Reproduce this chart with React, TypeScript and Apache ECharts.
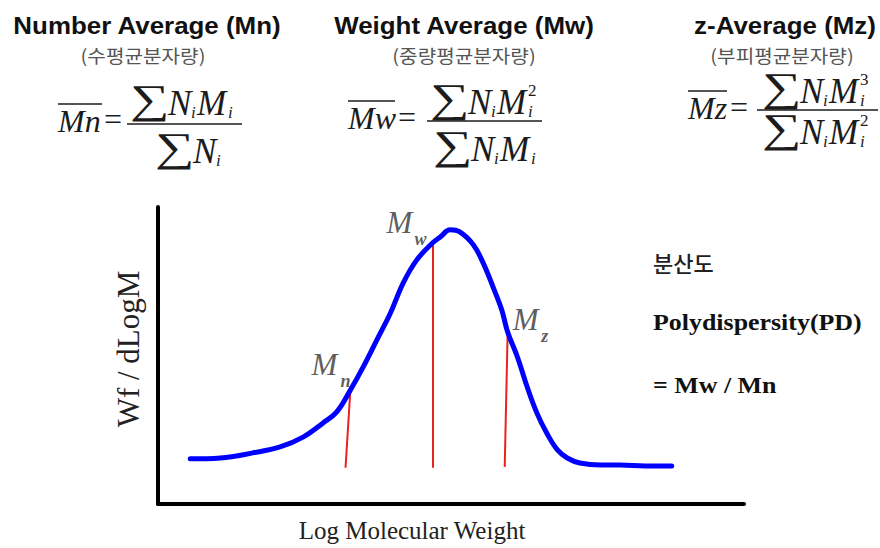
import React, { useEffect, useRef } from "react";
import * as echarts from "echarts";

// ---- data ----
const logM = [2.33, 2.64, 2.97, 3.25, 3.49, 3.69, 3.83, 3.97, 4.10, 4.24, 4.38, 4.51, 4.65, 4.81, 4.89, 4.99, 5.09, 5.23, 5.33, 5.43, 5.52, 5.58, 5.68, 5.78, 5.88, 5.98, 6.09, 6.19, 6.32, 6.53, 6.73, 6.99, 7.26];
const wfDlogM = [0.152, 0.155, 0.172, 0.192, 0.226, 0.273, 0.310, 0.384, 0.461, 0.552, 0.643, 0.744, 0.822, 0.879, 0.899, 0.923, 0.916, 0.872, 0.811, 0.731, 0.653, 0.579, 0.495, 0.394, 0.306, 0.239, 0.182, 0.155, 0.138, 0.131, 0.131, 0.128, 0.128];

const markerSubs = ["n", "w", "z"];
const markerTopX = [3.97, 4.81, 5.58];
const markerTopY = [0.384, 0.879, 0.579];
const markerBaseX = [3.92, 4.81, 5.55];
const markerBaseY = [0.122, 0.122, 0.125];

const titles = ["Number Average (Mn)", "Weight Average (Mw)", "z-Average (Mz)"];
const subtitles = ["(수평균분자량)", "(중량평균분자량)", "(부피평균분자량)"];
const xAxisName = "Log Molecular Weight";
const yAxisName = "Wf / dLogM";
const pdLines = ["분산도", "Polydispersity(PD)", "= Mw / Mn"];

// ---- styling ----
const SANS = "'Liberation Sans', Arial, sans-serif";
const SERIF = "'Liberation Serif', 'Times New Roman', serif";
const KR = "'Noto Sans CJK KR', sans-serif";
const INK = "#1c1c1c";

const labelMOffsets = [[-26, -25], [-33, -20], [18, -13]];
const labelSubOffsets = [[-5, -9], [-12, -4], [37, 4]];

function t(x: number, y: number, text: string, size: number, opts: any = {}) {
  return {
    type: "text",
    x,
    y,
    silent: true,
    scaleX: opts.scaleX ?? 1,
    rotation: opts.rotation ?? 0,
    style: {
      text,
      fontSize: size,
      fontFamily: opts.family ?? SERIF,
      fontStyle: opts.italic ? "italic" : "normal",
      fontWeight: opts.weight ?? "normal",
      fill: opts.fill ?? INK,
      align: opts.align ?? "left",
      verticalAlign: "middle",
    },
  };
}
function ln(x1: number, y1: number, x2: number, y2: number, w = 1.5) {
  return { type: "line", silent: true, shape: { x1, y1, x2, y2 }, style: { stroke: INK, lineWidth: w } };
}

const FM = 32; // left-hand side size
const FL = 35; // fraction letter size
const SUB = 17;
const SIG = 41;

function sig(x: number, y: number) {
  return t(x, y, "∑", SIG, { scaleX: 1.35 });
}

// a term "∑ N_i M_i^p" with left edge x and letter centre y
function term(x: number, y: number, withM: boolean, power: string) {
  const it = { italic: true };
  const els: any[] = [sig(x, y - 3), t(x + 38, y, "N", FL, it), t(x + 61, y + 9, "i", SUB, it)];
  if (withM) {
    els.push(t(x + 67, y, "M", FL, it), t(x + 98, y + 9, "i", SUB, it));
    if (power) els.push(t(x + 98, y - 12, power, SUB));
  }
  return els;
}

function formulaElements(): any[] {
  const it = { italic: true };
  return [
    // Mn
    t(58, 121, "Mn", FM, it), ln(58, 104, 102, 104),
    t(104, 119, "=", FM), ln(127, 124, 242, 124),
    ...term(130, 103, true, ""),
    ...term(155, 151, false, ""),
    // Mw
    t(348, 118, "Mw", FM, it), ln(348, 101, 395, 101),
    t(398, 117, "=", FM), ln(427, 121, 542, 121),
    ...term(430, 102, true, "2"),
    ...term(433, 149, true, ""),
    // Mz
    t(688, 108, "Mz", FM, it), ln(688, 91, 727, 91),
    t(730, 107, "=", FM), ln(757, 110, 878, 110),
    ...term(762, 91, true, "3"),
    ...term(762, 132, true, "2"),
  ];
}

export default function App() {
  const ref = useRef<HTMLDivElement>(null);
  useEffect(() => {
    if (!ref.current) return;
    const chart = echarts.init(ref.current, null, { renderer: "svg" });
    const titleX = [147, 464, 785];
    const subX = [143, 464, 782];
    const graphic: any[] = [];
    titles.forEach((s, i) =>
      graphic.push(t(titleX[i], 25, s, 24, { family: SANS, weight: "bold", align: "center", scaleX: 1.08, fill: "#111" }))
    );
    subtitles.forEach((s, i) =>
      graphic.push(t(subX[i], 55, s, 18, { family: KR, align: "center", scaleX: 1.12, fill: "#555" }))
    );
    graphic.push(...formulaElements());
    graphic.push(t(653, 262, pdLines[0], 22, { family: KR, weight: 500, fill: "#222" }));
    graphic.push(t(653, 322, pdLines[1], 24, { weight: "bold", scaleX: 1.08, fill: "#111" }));
    graphic.push(t(653, 385, pdLines[2], 24, { weight: "bold", scaleX: 1.08, fill: "#111" }));
    graphic.push(t(412, 530, xAxisName, 25, { align: "center", fill: "#222" }));
    graphic.push(t(128, 349, yAxisName, 31, { align: "center", rotation: Math.PI / 2, fill: "#222" }));

    const curve = logM.map((x, i) => [x, wfDlogM[i]]);
    const markLines = markerTopX.map((x, i) => [
      { coord: [markerBaseX[i], markerBaseY[i]] },
      { coord: [x, markerTopY[i]] },
    ]);

    chart.setOption({
      animation: false,
      backgroundColor: "#ffffff",
      grid: { left: 158, top: 207, width: 586, height: 297 },
      xAxis: {
        type: "value",
        min: 2,
        max: 8,
        axisLine: { show: true, lineStyle: { color: "#000", width: 4 } },
        axisTick: { show: false },
        axisLabel: { show: false },
        splitLine: { show: false },
      },
      yAxis: {
        type: "value",
        min: 0,
        max: 1,
        axisLine: { show: true, lineStyle: { color: "#000", width: 4 } },
        axisTick: { show: false },
        axisLabel: { show: false },
        splitLine: { show: false },
      },
      series: [
        {
          type: "line",
          data: curve,
          smooth: 0.4,
          showSymbol: false,
          silent: true,
          z: 3,
          lineStyle: { color: "#0000ff", width: 5, cap: "round", join: "round" },
          markLine: {
            silent: true,
            symbol: "none",
            label: { show: false },
            lineStyle: { color: "#e8231f", width: 2, type: "solid" },
            data: markLines,
            z: 2,
          },
        },
        {
          type: "scatter",
          silent: true,
          symbolSize: 1,
          itemStyle: { color: "transparent" },
          z: 5,
          data: markerTopX.map((x, i) => ({
            value: [x, markerTopY[i]],
            label: { offset: labelMOffsets[i] },
          })),
          label: {
            show: true,
            position: "inside",
            formatter: "M",
            fontFamily: SERIF,
            fontStyle: "italic",
            fontSize: 31,
            color: "#333",
          },
        },
        {
          type: "scatter",
          silent: true,
          symbolSize: 1,
          itemStyle: { color: "transparent" },
          z: 5,
          data: markerTopX.map((x, i) => ({
            value: [x, markerTopY[i]],
            name: markerSubs[i],
            label: { offset: labelSubOffsets[i] },
          })),
          label: {
            show: true,
            position: "inside",
            formatter: (p: any) => p.name,
            fontFamily: SERIF,
            fontStyle: "italic",
            fontWeight: "bold",
            fontSize: 18,
            color: "#333",
          },
        },
      ],
      graphic,
    });
    return () => chart.dispose();
  }, []);
  return (
    <div
      ref={ref}
      style={{ position: "absolute", left: 0, top: 0, width: 880, height: 548, background: "#fff" }}
    />
  );
}
